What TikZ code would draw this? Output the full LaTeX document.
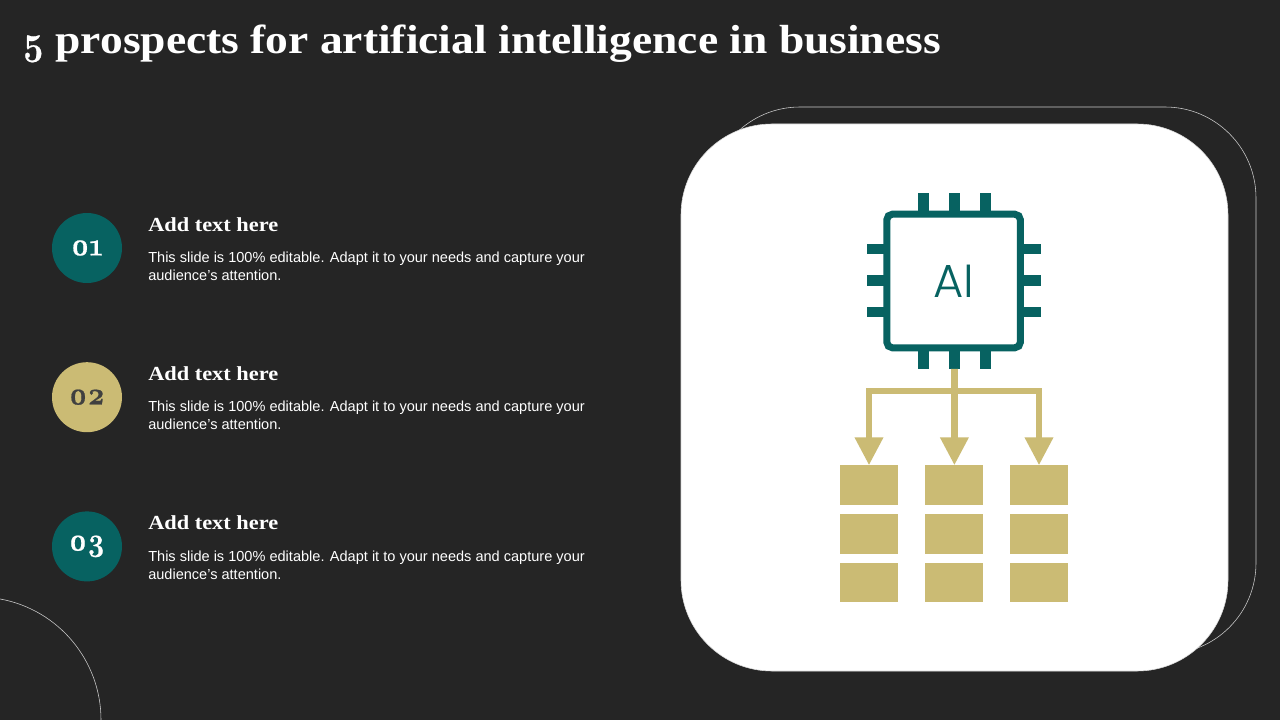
\documentclass[tikz,border=0pt]{standalone}
\usepackage{fontspec}
\usetikzlibrary{arrows.meta}
\setsansfont{Liberation Sans}
\setmainfont[FakeStretch=1.12]{Liberation Serif}
\newfontfamily\aifont{Poppins Light}
\newfontfamily\numfont[Numbers=OldStyle, FakeStretch=0.88, FakeBold=0.6]{Latin Modern Roman}
\definecolor{slatebg}{HTML}{252525}
\definecolor{tealdark}{HTML}{076261}
\definecolor{goldsand}{HTML}{CBBB74}
\tikzstyle{titletext} = [anchor=base west, inner sep=0, text=white, font=\fontsize{28.9}{30}\selectfont\bfseries]
\tikzstyle{headtext} = [anchor=base west, inner sep=0, text=white, font=\fontsize{14.2}{16}\selectfont\bfseries]
\tikzstyle{bodytext} = [anchor=west, inner sep=0, text=white, align=left, font=\sffamily\fontsize{10.35}{12.8}\selectfont]
\tikzstyle{numdisc} = [circle, minimum size=1.75cm, inner sep=0, font=\numfont\fontsize{23}{25}\selectfont\bfseries]
\tikzstyle{panel} = [rectangle, rounded corners=2.275cm, minimum width=13.675cm, minimum height=13.675cm, outer sep=0]
\tikzstyle{chippin} = [rectangle, fill=tealdark, inner sep=0, outer sep=0]
\tikzstyle{goldbox} = [rectangle, fill=goldsand, inner sep=0, outer sep=0, minimum width=1.45cm, minimum height=0.985cm]
\tikzstyle{arrow} = [goldsand, line width=0.17cm, -{Triangle[width=0.675cm, length=0.7cm]}]

\begin{document}
\begin{tikzpicture}[node distance=3.73cm]
      \useasboundingbox (0,0) rectangle (32,18);
      \fill [slatebg] (0,0) rectangle (32,18);
      \draw [line width=0.4pt, gray!40] (0,3.026) arc (79.7:0:3.075);

      \node (title) [titletext] at (0.55,16.65) {{\numfont 5} prospects for artificial intelligence in business};

      \node (disc1) [numdisc, fill=tealdark, text=white] at (2.175,11.8) {\raisebox{-2pt}{01}};
      \node (disc2) [numdisc, fill=goldsand, text=black!75, below of=disc1] {\raisebox{-2pt}{02}};
      \node (disc3) [numdisc, fill=tealdark, text=white, below of=disc2] {\raisebox{-2pt}{03}};

      \node (head1) [headtext] at (3.7,12.22) {Add text here};
      \node (body1) [bodytext] at (3.7,11.34) {This slide is 100\% editable. Adapt it to your needs and capture your\\audience's attention.};
      \node (head2) [headtext] at (3.7,8.495) {Add text here};
      \node (body2) [bodytext] at (3.7,7.615) {This slide is 100\% editable. Adapt it to your needs and capture your\\audience's attention.};
      \node (head3) [headtext] at (3.7,4.77) {Add text here};
      \node (body3) [bodytext] at (3.7,3.87) {This slide is 100\% editable. Adapt it to your needs and capture your\\audience's attention.};

      \node (backpanel) [panel, draw=gray!40, line width=0.4pt] at (24.5625,8.4875) {};
      \node (frontpanel) [panel, fill=white, draw=gray!30, line width=0.4pt] at (23.8625,8.0625) {};

      % pins round the chip
      \node (pint1) [chippin, minimum width=0.27cm, minimum height=0.45cm] at (23.08,12.95) {};
      \node (pint2) [chippin, minimum width=0.27cm, minimum height=0.45cm] at (23.86,12.95) {};
      \node (pint3) [chippin, minimum width=0.27cm, minimum height=0.45cm] at (24.64,12.95) {};
      \node (pinb1) [chippin, minimum width=0.27cm, minimum height=0.45cm] at (23.08,9) {};
      \node (pinb2) [chippin, minimum width=0.27cm, minimum height=0.45cm] at (23.86,9) {};
      \node (pinb3) [chippin, minimum width=0.27cm, minimum height=0.45cm] at (24.64,9) {};
      \node (pinl1) [chippin, minimum width=0.45cm, minimum height=0.27cm] at (21.9,11.775) {};
      \node (pinl2) [chippin, minimum width=0.45cm, minimum height=0.27cm] at (21.9,10.98) {};
      \node (pinl3) [chippin, minimum width=0.45cm, minimum height=0.27cm] at (21.9,10.2) {};
      \node (pinr1) [chippin, minimum width=0.45cm, minimum height=0.27cm] at (25.8,11.775) {};
      \node (pinr2) [chippin, minimum width=0.45cm, minimum height=0.27cm] at (25.8,10.98) {};
      \node (pinr3) [chippin, minimum width=0.45cm, minimum height=0.27cm] at (25.8,10.2) {};

      \node (chip) [rectangle, draw=tealdark, fill=white, line width=0.175cm, rounded corners=0.14cm, minimum width=3.34cm, minimum height=3.34cm, text=tealdark, font=\aifont\fontsize{33}{36}\selectfont] at (23.84,10.975) {AI};

      % grid of boxes
      \node (box11) [goldbox] at (21.725,5.875) {};
      \node (box21) [goldbox, below of=box11, node distance=1.22cm] {};
      \node (box31) [goldbox, below of=box21, node distance=1.22cm] {};
      \node (box12) [goldbox, right of=box11, node distance=2.135cm] {};
      \node (box22) [goldbox, below of=box12, node distance=1.22cm] {};
      \node (box32) [goldbox, below of=box22, node distance=1.22cm] {};
      \node (box13) [goldbox, right of=box12, node distance=2.115cm] {};
      \node (box23) [goldbox, below of=box13, node distance=1.22cm] {};
      \node (box33) [goldbox, below of=box23, node distance=1.22cm] {};

      \coordinate (bar) at (23.86,8.225);

      \draw [arrow] (pinb2.south) -- (box12.north);
      \draw [arrow] (bar) -| (box11.north);
      \draw [arrow] (bar) -| (box13.north);
\end{tikzpicture}
\end{document}
